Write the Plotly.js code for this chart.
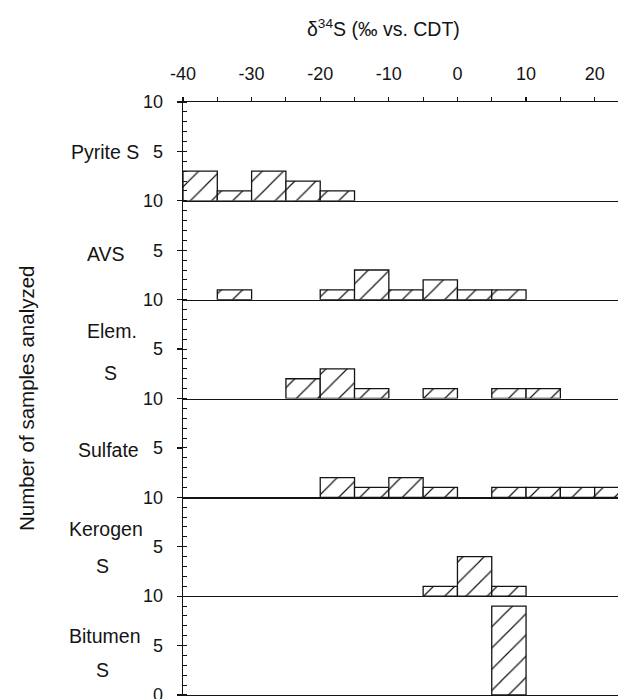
<!DOCTYPE html>
<html>
<head>
<meta charset="utf-8">
<script src="https://cdn.plot.ly/plotly-3.0.1.min.js"></script>
<style>html,body{margin:0;padding:0;background:#fff;}#chart{width:618px;height:699px;}</style>
</head>
<body>
<div id="chart"></div>
<script>
// Bin centres of 5-permil bins (delta34S, permil vs. CDT)
var binCenters = [-37.5, -32.5, -27.5, -22.5, -17.5, -12.5, -7.5, -2.5, 2.5, 7.5, 12.5, 17.5, 22.5];
// Number of samples per bin, one array per sulfur fraction
var pyriteS  = [3, 1, 3, 2, 1, 0, 0, 0, 0, 0, 0, 0, 0];
var avs      = [0, 1, 0, 0, 1, 3, 1, 2, 1, 1, 0, 0, 0];
var elemS    = [0, 0, 0, 2, 3, 1, 0, 1, 0, 1, 1, 0, 0];
var sulfate  = [0, 0, 0, 0, 2, 1, 2, 1, 0, 1, 1, 1, 1];
var kerogenS = [0, 0, 0, 0, 0, 0, 0, 1, 4, 1, 0, 0, 0];
var bitumenS = [0, 0, 0, 0, 0, 0, 0, 0, 0, 9, 0, 0, 0];
// Panel labels (lines)
var panelLabels = [["Pyrite S"], ["AVS"], ["Elem.", "S"], ["Sulfate"], ["Kerogen", "S"], ["Bitumen", "S"]];
var xTickVals = [-40, -30, -20, -10, 0, 10, 20];
var xTitle = "δ<sup>34</sup>S (‰ vs. CDT)";
var yTitle = "Number of samples analyzed";

var series = [pyriteS, avs, elemS, sulfate, kerogenS, bitumenS];

var FONT = "Liberation Sans, Arial, Helvetica, sans-serif";
var INK = "#141414";
var W = 618, H = 699, ML = 183, MR = 0, MT = 102, MB = 4;
var PW = W - ML - MR, PH = H - MT - MB;
function pxX(px) { return (px - ML) / PW; }
function pxY(py) { return (H - MB - py) / PH; }

var n = series.length;
var traces = [];
var layout = {
  width: W, height: H,
  margin: {l: ML, r: MR, t: MT, b: MB, pad: 0},
  paper_bgcolor: "#fff", plot_bgcolor: "#fff",
  showlegend: false,
  bargap: 0,
  font: {family: FONT, size: 18, color: INK},
  annotations: []
};

series.forEach(function (vals, i) {
  var k = i + 1;
  var xa = k === 1 ? "x" : "x" + k;
  var ya = k === 1 ? "y" : "y" + k;
  traces.push({
    type: "bar",
    x: binCenters,
    y: vals.map(function (v) { return v > 0 ? v : null; }),
    width: 5,
    xaxis: xa, yaxis: ya,
    marker: {
      color: "#fff",
      line: {color: INK, width: 1.3},
      pattern: {shape: "/", fgcolor: INK, bgcolor: "#fff", size: 15, solidity: 0.08}
    },
    hoverinfo: "x+y"
  });
  var top = 1 - i / n, bot = 1 - (i + 1) / n;
  var ykey = k === 1 ? "yaxis" : "yaxis" + k;
  var xkey = k === 1 ? "xaxis" : "xaxis" + k;
  var tv = (i === n - 1) ? [0, 5, 10] : [5, 10];
  layout[ykey] = {
    domain: [bot, top],
    anchor: xa,
    range: [0, 10],
    tickvals: tv,
    ticktext: tv.map(String),
    ticks: "outside", ticklen: 5, tickwidth: 1.2, tickcolor: INK,
    minor: {dtick: 1, tick0: 0, ticks: "inside", ticklen: 4, tickcolor: INK, tickwidth: 1},
    showline: true, linecolor: INK, linewidth: 1.3,
    showgrid: false, zeroline: false,
    tickfont: {family: FONT, size: 18, color: INK},
    ticklabelstandoff: 10,
    ticklabeloverflow: "allow",
    fixedrange: true
  };
  var xcfg = {
    range: [-40, 23.4],
    anchor: ya,
    showline: true, linecolor: INK, linewidth: 1.3,
    showgrid: false, zeroline: false,
    fixedrange: true
  };
  if (k === 1) {
    xcfg.side = "top";
    xcfg.mirror = true;
    xcfg.tickvals = xTickVals;
    xcfg.ticktext = xTickVals.map(String);
    xcfg.ticks = "outside"; xcfg.ticklen = 4; xcfg.tickcolor = INK; xcfg.tickwidth = 1.2;
    xcfg.minor = {dtick: 5, tick0: -40, ticks: "outside", ticklen: 4, tickcolor: INK, tickwidth: 1};
    xcfg.tickfont = {family: FONT, size: 18, color: INK};
    xcfg.ticklabelstandoff = 10;
    xcfg.ticklabeloverflow = "allow";
  } else {
    xcfg.matches = "x";
    xcfg.ticks = "";
    xcfg.showticklabels = false;
  }
  layout[xkey] = xcfg;
});

// Panel label placement (pixel positions of each line)
var labelPos = [
  [[141, 152, "right"]],
  [[106, 254, "center"]],
  [[112, 331, "center"], [110, 373, "center"]],
  [[141, 450, "right"]],
  [[106, 529, "center"], [102, 566, "center"]],
  [[105, 636, "center"], [102, 670, "center"]]
];
panelLabels.forEach(function (lines, i) {
  lines.forEach(function (txt, j) {
    var p = labelPos[i][j];
    layout.annotations.push({
      text: txt, xref: "paper", yref: "paper",
      x: pxX(p[0]), y: pxY(p[1]), xanchor: p[2], yanchor: "middle",
      showarrow: false, font: {family: FONT, size: 19.5, color: INK}
    });
  });
});

layout.annotations.push({
  text: xTitle, xref: "paper", yref: "paper",
  x: pxX(383), y: pxY(28), xanchor: "center", yanchor: "middle",
  showarrow: false, font: {family: FONT, size: 19.5, color: INK}
});
layout.annotations.push({
  text: yTitle, xref: "paper", yref: "paper",
  x: pxX(26), y: pxY(398), xanchor: "center", yanchor: "middle", textangle: -90,
  showarrow: false, font: {family: FONT, size: 20.5, color: INK}
});

Plotly.newPlot("chart", traces, layout, {displayModeBar: false, staticPlot: true});
</script>
</body>
</html>
